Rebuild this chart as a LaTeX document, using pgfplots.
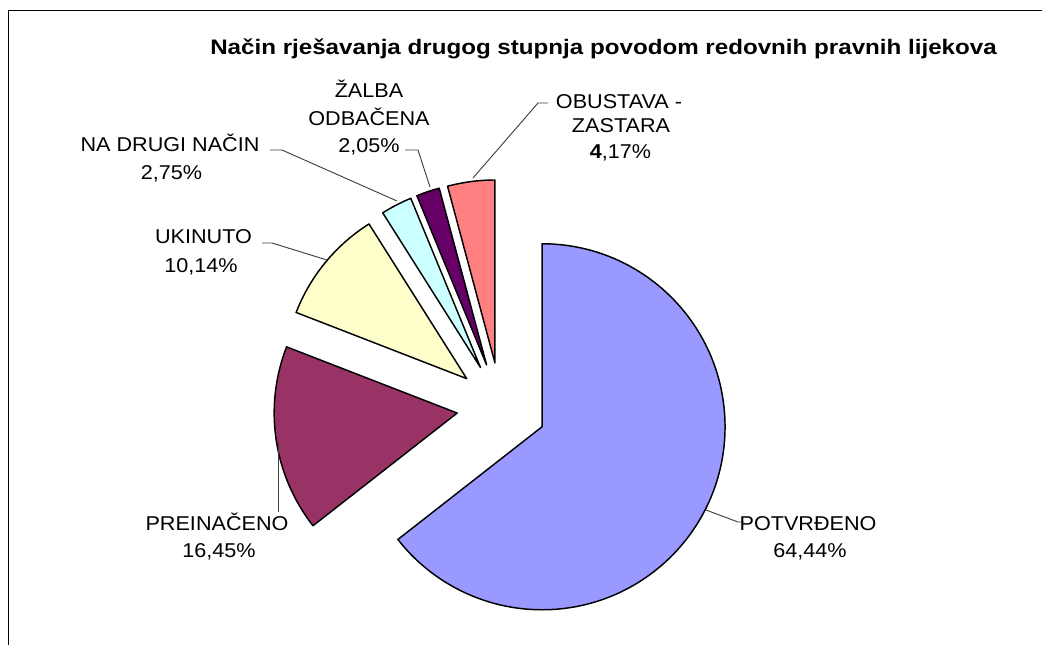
\documentclass[border=0pt]{standalone}
\usepackage{fontspec}
\setmainfont{Liberation Sans}[FakeStretch=1.08]
\newfontfamily\titlefont{Liberation Sans}[FakeStretch=1.15]
\usepackage{pgfplots}
\usepackage{pgfplotstable}
\pgfplotsset{compat=1.18}

\definecolor{cPot}{HTML}{9999FF}
\definecolor{cPre}{HTML}{993366}
\definecolor{cUki}{HTML}{FFFFCC}
\definecolor{cNad}{HTML}{CCFFFF}
\definecolor{cZal}{HTML}{660066}
\definecolor{cObu}{HTML}{FF8080}

% share (%), explosion offset (px), colour
\pgfplotstableread{
value explode color
64.44 46 cPot
16.45 44 cPre
10.14 44 cUki
2.75 44 cNad
2.05 44 cZal
4.17 44 cObu
}\piedata

\newcommand\lf{\fontsize{15}{21}\selectfont}

\begin{document}
\begin{tikzpicture}
\fill[white] (-4pt,-4pt) rectangle (786pt,487pt);
\begin{axis}[name=ax, at={(0,0)}, anchor=south west, scale only axis,
  width=781.5pt, height=483pt, xmin=0, xmax=1042, ymin=0, ymax=644,
  y dir=reverse, hide axis, clip=false]

% outer chart border (only left and top visible)
\draw[line width=0.9pt] (axis cs:8.3,650) -- (axis cs:8.3,10.7) -- (axis cs:1050,10.7);

% pie slices from the table
\def\cx{500.7}\def\cy{406.6}
\gdef\cum{0}
\pgfplotsforeachungrouped \i in {0,...,5}{%
  \pgfplotstablegetelem{\i}{value}\of\piedata \let\v\pgfplotsretval
  \pgfplotstablegetelem{\i}{explode}\of\piedata \let\e\pgfplotsretval
  \pgfplotstablegetelem{\i}{color}\of\piedata \let\col\pgfplotsretval
  \pgfmathsetmacro\a{90-\cum*3.6}%
  \pgfmathsetmacro\b{90-(\cum+\v)*3.6}%
  \pgfmathsetmacro\m{(\a+\b)/2}%
  \pgfmathsetmacro\vx{\cx+\e*cos(\m)}%
  \pgfmathsetmacro\vy{\cy-\e*sin(\m)}%
  \edef\temp{\noexpand\filldraw[fill=\col, draw=black, line width=1.1pt, line join=round]
    (axis cs:\vx,\vy) -- ++(\a:137.25pt) arc[start angle=\a, end angle=\b, radius=137.25pt] -- cycle;}%
  \temp
  \pgfmathsetmacro\cum{\cum+\v}%
  \xdef\cum{\cum}%
}

% title
\node[anchor=base] at (axis cs:603.5,54) {\titlefont\bfseries\fontsize{15.75}{19}\selectfont Način rješavanja drugog stupnja povodom redovnih pravnih lijekova};

% leader lines
\draw[black!75, line width=0.7pt] (axis cs:548,103) -- (axis cs:538,103) -- (axis cs:473,178);
\draw[black!75, line width=0.7pt] (axis cs:405,150) -- (axis cs:418,150) -- (axis cs:430,187);
\draw[black!75, line width=0.7pt] (axis cs:270,150) -- (axis cs:282,150) -- (axis cs:397,201);
\draw[black!75, line width=0.7pt] (axis cs:262,243) -- (axis cs:272,243) -- (axis cs:327,260);
\draw[black!75, line width=0.7pt] (axis cs:278,512) -- (axis cs:278,442);
\draw[black!75, line width=0.7pt] (axis cs:706,510) -- (axis cs:738,522) -- (axis cs:744,522);

% labels
\node[anchor=base] at (axis cs:369,97) {\lf ŽALBA};
\node[anchor=base] at (axis cs:369,125) {\lf ODBAČENA};
\node[anchor=base] at (axis cs:369,152) {\lf 2,05\%};

\node[anchor=base] at (axis cs:619,108) {\lf OBUSTAVA -};
\node[anchor=base] at (axis cs:621,132) {\lf ZASTARA};
\node[anchor=base] at (axis cs:620.5,158) {\lf \textbf{4},17\%};

\node[anchor=base] at (axis cs:170,151) {\lf NA DRUGI NAČIN};
\node[anchor=base] at (axis cs:171.5,179.5) {\lf 2,75\%};

\node[anchor=base] at (axis cs:203.5,243) {\lf UKINUTO};
\node[anchor=base] at (axis cs:201,272) {\lf 10,14\%};

\node[anchor=base] at (axis cs:217,530) {\lf PREINAČENO};
\node[anchor=base] at (axis cs:219,557) {\lf 16,45\%};

\node[anchor=base] at (axis cs:808,530) {\lf POTVRĐENO};
\node[anchor=base] at (axis cs:810,557) {\lf 64,44\%};

\end{axis}
\pgfresetboundingbox
\useasboundingbox (0,0) rectangle (781.5pt,483pt);
\end{tikzpicture}
\end{document}
